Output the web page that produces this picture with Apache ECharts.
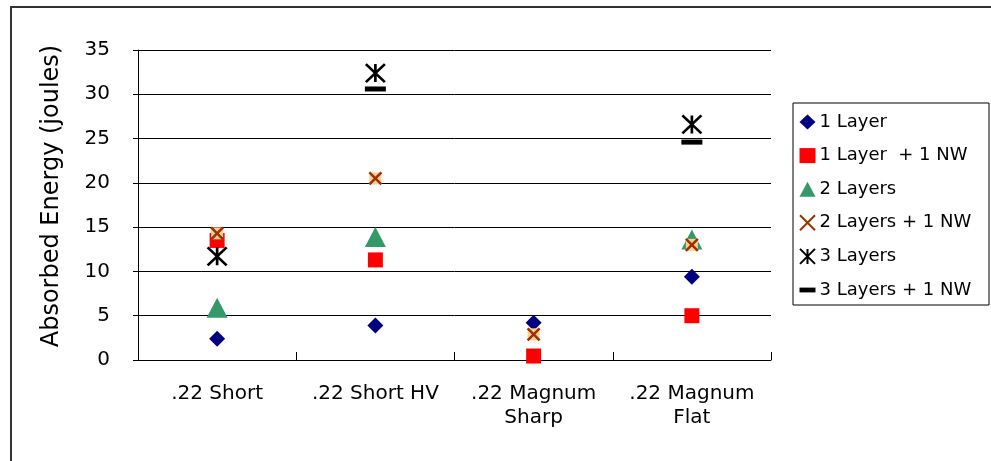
<!DOCTYPE html>
<html>
<head>
<meta charset="utf-8">
<script src="https://cdn.jsdelivr.net/npm/echarts@6/dist/echarts.min.js"></script>
<style>
html,body{margin:0;padding:0;background:#fff;}
#chart{width:991px;height:461px;}
</style>
</head>
<body>
<div id="chart"></div>
<script>
var categories = ['.22 Short', '.22 Short HV', '.22 Magnum\nSharp', '.22 Magnum\nFlat'];
var yTicks = [0, 5, 10, 15, 20, 25, 30, 35];
var oneLayer = [2.4, 3.9, 4.2, 9.4];
var oneLayerNW = [13.5, 11.3, 0.45, 5.0];
var twoLayers = [5.9, 13.9, null, 13.6];
var twoLayersNW = [14.3, 20.5, 2.9, 13.0];
var threeLayers = [11.7, 32.4, null, 26.6];
var threeLayersNW = [null, 30.6, null, 24.6];
var seriesNames = ['1 Layer', '1 Layer  + 1 NW', '2 Layers', '2 Layers + 1 NW', '3 Layers', '3 Layers + 1 NW'];

var FONT = 'DejaVu Sans';
var chart = echarts.init(document.getElementById('chart'), null, {renderer: 'canvas'});

function base(name, data) {
  return {
    type: 'scatter', name: name, data: data,
    emphasis: {disabled: true}, animation: false
  };
}

var s1 = base(seriesNames[0], oneLayer);
s1.symbol = 'diamond'; s1.symbolSize = [16, 16]; s1.itemStyle = {color: '#000080', opacity: 1};

var s2 = base(seriesNames[1], oneLayerNW);
s2.symbol = 'rect'; s2.symbolSize = [15, 15]; s2.itemStyle = {color: '#FF0000', opacity: 1};

var s3 = base(seriesNames[2], twoLayers);
s3.symbol = 'triangle'; s3.symbolSize = [21, 20]; s3.itemStyle = {color: '#339966', opacity: 1};

var s4bg = base('2 Layers + 1 NW bg', twoLayersNW);
s4bg.symbol = 'rect'; s4bg.symbolSize = [12, 12]; s4bg.itemStyle = {color: '#FFCC99', opacity: 1}; s4bg.silent = true;

var s4 = base(seriesNames[3], twoLayersNW);
s4.symbol = 'path://M0,0L10,10M10,0L0,10'; s4.symbolSize = [12, 12];
s4.itemStyle = {color: 'rgba(0,0,0,0)', borderColor: '#993300', borderWidth: 2.5, opacity: 1};

var s5 = base(seriesNames[4], threeLayers);
s5.symbol = 'path://M0,0L10,10M10,0L0,10M5,0L5,10'; s5.symbolSize = [19, 18];
s5.itemStyle = {color: 'rgba(0,0,0,0)', borderColor: '#000000', borderWidth: 2.6, opacity: 1};

var s6 = base(seriesNames[5], threeLayersNW);
s6.symbol = 'rect'; s6.symbolSize = [21, 5]; s6.itemStyle = {color: '#000000', opacity: 1};

var legendData = seriesNames.map(function (n, i) {
  if (i === 5) return {name: n, icon: 'path://M0,0L10,0L10,3L0,3Z'};
  return {name: n};
});

var option = {
  backgroundColor: '#ffffff',
  animation: false,
  textStyle: {fontFamily: FONT, color: '#000'},
  graphic: [
    {type: 'rect', z: -10, shape: {x: 11, y: 7, width: 990, height: 470},
     style: {fill: 'none', stroke: '#333', lineWidth: 2}},
    {type: 'rect', z: -10, shape: {x: 793, y: 103, width: 196, height: 202},
     style: {fill: 'none', stroke: '#000', lineWidth: 1}}
  ],
  grid: {left: 138, top: 50, right: 220, bottom: 101, containLabel: false},
  legend: {
    orient: 'vertical', left: 793, top: 103,
    padding: [9, 6, 5, 6],
    itemWidth: 16, itemHeight: 15, itemGap: 13.6,
    data: legendData,
    textStyle: {fontFamily: FONT, fontSize: 18, color: '#000', lineHeight: 20, padding: [0, 0, 0, -1]},
    selectedMode: false
  },
  xAxis: {
    type: 'category', data: categories, boundaryGap: true,
    axisLine: {show: true, lineStyle: {color: '#000', width: 1}},
    axisTick: {show: true, inside: true, length: 8, lineStyle: {color: '#000'}},
    axisLabel: {fontFamily: FONT, fontSize: 20, color: '#000', margin: 22, lineHeight: 24, interval: 0},
    splitLine: {show: false}
  },
  yAxis: {
    type: 'value', min: yTicks[0], max: yTicks[yTicks.length - 1], interval: yTicks[1] - yTicks[0],
    name: 'Absorbed Energy (joules)', nameLocation: 'middle', nameGap: 74, nameRotate: 90,
    nameTextStyle: {fontFamily: FONT, fontSize: 24, color: '#000', padding: [0, 0, 0, 18]},
    axisLine: {show: true, lineStyle: {color: '#000', width: 1}},
    axisTick: {show: true, inside: false, length: 5, lineStyle: {color: '#000'}},
    axisLabel: {fontFamily: FONT, fontSize: 20, color: '#000', margin: 28},
    splitLine: {show: true, lineStyle: {color: '#000', width: 1}}
  },
  series: [s1, s2, s3, s4bg, s4, s5, s6]
};
chart.setOption(option);
</script>
</body>
</html>
